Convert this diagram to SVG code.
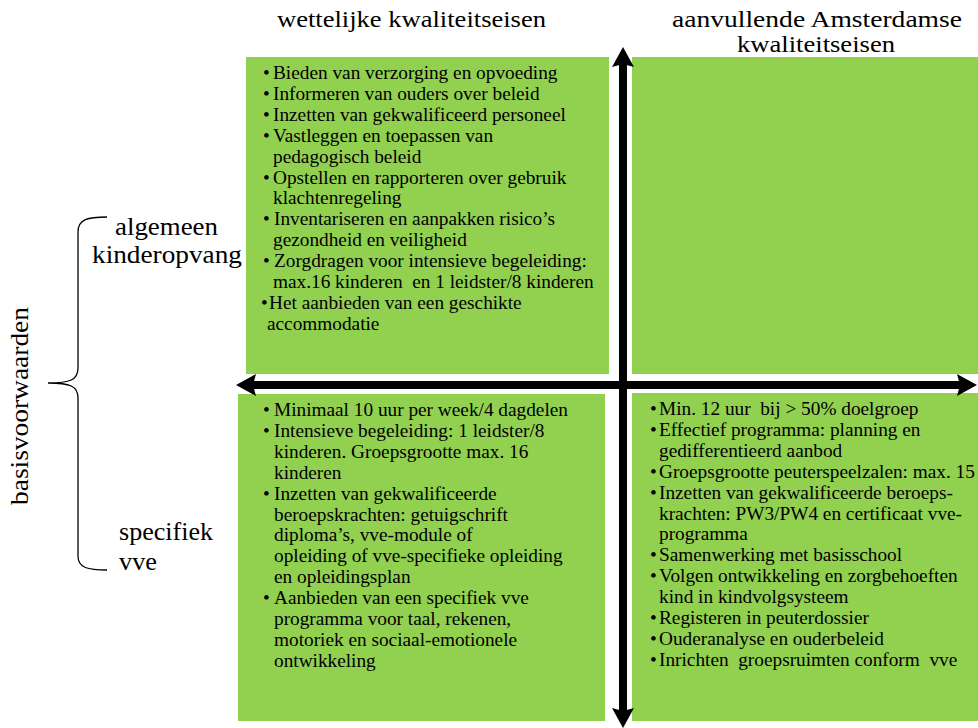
<svg xmlns="http://www.w3.org/2000/svg" width="978" height="728" viewBox="0 0 978 728">
<style>
.box{fill:#92D050}
.t{font-family:"Liberation Serif","DejaVu Serif",serif;font-size:19.3px;fill:#000}
.h{font-family:"Liberation Serif","DejaVu Serif",serif;font-size:23px;fill:#000}
.l{font-family:"Liberation Serif","DejaVu Serif",serif;font-size:25px;fill:#000}
.ax{stroke:#000;stroke-width:8;fill:none}
</style>
<defs>
<marker id="ah" viewBox="0 0 20 22" markerWidth="20" markerHeight="22" refX="10" refY="11" orient="auto-start-reverse" markerUnits="userSpaceOnUse">
<path d="M0,0 L20,11 L0,22 L3,11 z" fill="#000"/>
</marker>
</defs>
<rect width="978" height="728" fill="#fff"/>

<g id="header-left"><text class="h" x="277" y="27" textLength="269" lengthAdjust="spacingAndGlyphs">wettelijke kwaliteitseisen</text></g>
<g id="header-right"><text class="h" x="672" y="27" textLength="290" lengthAdjust="spacingAndGlyphs">aanvullende Amsterdamse</text><text class="h" x="737" y="52" textLength="158" lengthAdjust="spacingAndGlyphs">kwaliteitseisen</text></g>

<g id="label-basis"><text class="l" transform="translate(28,505) rotate(-90)" textLength="198" lengthAdjust="spacingAndGlyphs">basisvoorwaarden</text>
<path d="M107,217 C88,217 78,219 78,232 L78,368 C78,380 70,383 48,383 C70,383 78,386 78,398 L78,556 C78,568 88,570 107,570" fill="none" stroke="#000" stroke-width="1.3"/></g>
<g id="label-algemeen"><text class="l" x="115" y="235" textLength="103" lengthAdjust="spacingAndGlyphs">algemeen</text><text class="l" x="92" y="263" textLength="150" lengthAdjust="spacingAndGlyphs">kinderopvang</text></g>
<g id="label-specifiek"><text class="l" x="119" y="540" textLength="94" lengthAdjust="spacingAndGlyphs">specifiek</text><text class="l" x="119" y="570" textLength="38" lengthAdjust="spacingAndGlyphs">vve</text></g>

<g id="box-tl">
<rect class="box" x="246" y="57" width="363" height="317"/>
<g class="t">
<text x="263" y="79">•</text><text x="273" y="79">Bieden van verzorging en opvoeding</text>
<text x="263" y="99.9">•</text><text x="273" y="99.9">Informeren van ouders over beleid</text>
<text x="263" y="120.8">•</text><text x="273" y="120.8">Inzetten van gekwalificeerd personeel</text>
<text x="263" y="141.7">•</text><text x="273" y="141.7">Vastleggen en toepassen van</text>
<text x="273" y="162.6">pedagogisch beleid</text>
<text x="263" y="183.5">•</text><text x="273" y="183.5">Opstellen en rapporteren over gebruik</text>
<text x="273" y="204.4">klachtenregeling</text>
<text x="263" y="225.3">•</text><text x="274" y="225.3">Inventariseren en aanpakken risico’s</text>
<text x="273" y="246.2">gezondheid en veiligheid</text>
<text x="263" y="267.1">•</text><text x="274" y="267.1">Zorgdragen voor intensieve begeleiding:</text>
<text x="273" y="288">max.16 kinderen&#160; en 1 leidster/8 kinderen</text>
<text x="261" y="308.9">•</text><text x="269" y="308.9">Het aanbieden van een geschikte</text>
<text x="267" y="329.8">accommodatie</text>
</g>
</g>

<g id="box-tr">
<rect class="box" x="632" y="57" width="346" height="317"/>
</g>

<g id="box-bl">
<rect class="box" x="238" y="394" width="367" height="327"/>
<g class="t">
<text x="263" y="416">•</text><text x="274" y="416">Minimaal 10 uur per week/4 dagdelen</text>
<text x="263" y="436.9">•</text><text x="274" y="436.9">Intensieve begeleiding: 1 leidster/8</text>
<text x="274" y="457.8">kinderen. Groepsgrootte max. 16</text>
<text x="274" y="478.7">kinderen</text>
<text x="263" y="499.6">•</text><text x="274" y="499.6">Inzetten van gekwalificeerde</text>
<text x="274" y="520.5">beroepskrachten: getuigschrift</text>
<text x="274" y="541.4">diploma’s, vve-module of</text>
<text x="274" y="562.3">opleiding of vve-specifieke opleiding</text>
<text x="274" y="583.2">en opleidingsplan</text>
<text x="263" y="604.1">•</text><text x="274" y="604.1">Aanbieden van een specifiek vve</text>
<text x="274" y="625">programma voor taal, rekenen,</text>
<text x="274" y="645.9">motoriek en sociaal-emotionele</text>
<text x="274" y="666.8">ontwikkeling</text>
</g>
</g>

<g id="box-br">
<rect class="box" x="632" y="393" width="346" height="328"/>
<g class="t">
<text x="650" y="415">•</text><text x="659" y="415">Min. 12 uur&#160; bij &gt; 50% doelgroep</text>
<text x="650" y="435.9">•</text><text x="659" y="435.9">Effectief programma: planning en</text>
<text x="659" y="456.8">gedifferentieerd aanbod</text>
<text x="650" y="477.7">•</text><text x="659" y="477.7">Groepsgrootte peuterspeelzalen: max. 15</text>
<text x="650" y="498.6">•</text><text x="659" y="498.6">Inzetten van gekwalificeerde beroeps-</text>
<text x="659" y="519.5">krachten: PW3/PW4 en certificaat vve-</text>
<text x="659" y="540.4">programma</text>
<text x="650" y="561.3">•</text><text x="659" y="561.3">Samenwerking met basisschool</text>
<text x="650" y="582.2">•</text><text x="659" y="582.2">Volgen ontwikkeling en zorgbehoeften</text>
<text x="659" y="603.1">kind in kindvolgsysteem</text>
<text x="650" y="624">•</text><text x="659" y="624">Registeren in peuterdossier</text>
<text x="650" y="644.9">•</text><text x="659" y="644.9">Ouderanalyse en ouderbeleid</text>
<text x="650" y="665.8">•</text><text x="659" y="665.8">Inrichten&#160; groepsruimten conform&#160; vve</text>
</g>
</g>

<g id="connectors">
<line class="ax" x1="623" y1="57" x2="623" y2="718" marker-start="url(#ah)" marker-end="url(#ah)"/>
<line class="ax" x1="246" y1="385" x2="967" y2="385" marker-start="url(#ah)" marker-end="url(#ah)"/>
</g>
</svg>
